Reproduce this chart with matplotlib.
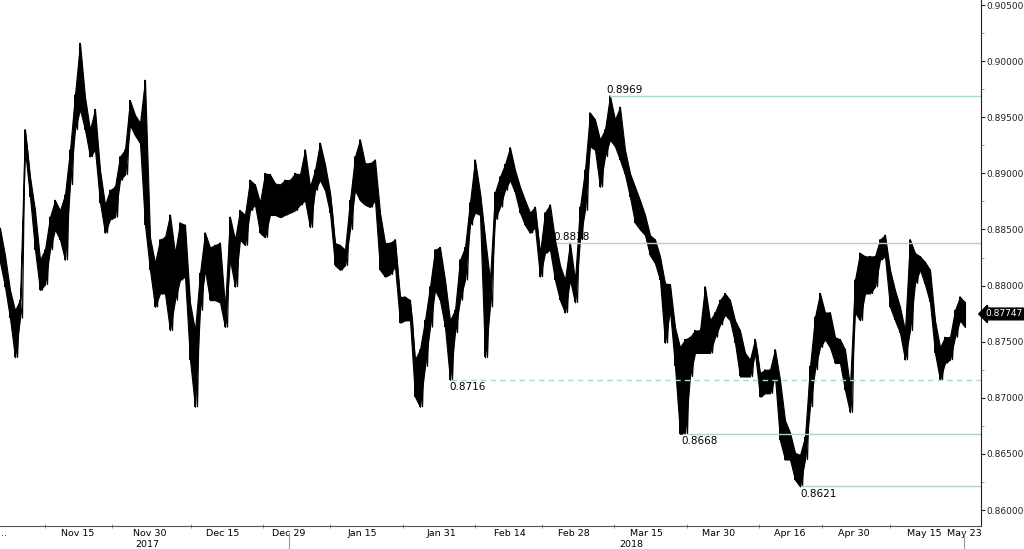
import matplotlib
matplotlib.use("Agg")
import matplotlib.pyplot as plt
import numpy as np

# price bands (high / low) sampled at regular bar intervals, Nov 2017 - May 2018
highs = [
    0.8851, 0.8827, 0.8796, 0.8778, 0.8787, 0.8939, 0.8897, 0.8867, 0.8823, 0.8832,
    0.8861, 0.8876, 0.8867, 0.8881, 0.8921, 0.8970, 0.9016, 0.8968, 0.8939, 0.8957,
    0.8903, 0.8872, 0.8885, 0.8888, 0.8915, 0.8921, 0.8965, 0.8952, 0.8945, 0.8983,
    0.8843, 0.8820, 0.8841, 0.8843, 0.8863, 0.8829, 0.8856, 0.8854, 0.8785, 0.8760,
    0.8811, 0.8847, 0.8834, 0.8836, 0.8838, 0.8781, 0.8861, 0.8841, 0.8867, 0.8863,
    0.8894, 0.8890, 0.8874, 0.8900, 0.8899, 0.8891, 0.8890, 0.8894, 0.8894, 0.8900,
    0.8899, 0.8921, 0.8888, 0.8903, 0.8927, 0.8908, 0.8883, 0.8838, 0.8836, 0.8832,
    0.8876, 0.8915, 0.8930, 0.8909, 0.8909, 0.8912, 0.8865, 0.8838, 0.8838, 0.8841,
    0.8790, 0.8790, 0.8787, 0.8734, 0.8743, 0.8769, 0.8799, 0.8832, 0.8834, 0.8805,
    0.8769, 0.8778, 0.8823, 0.8834, 0.8874, 0.8912, 0.8883, 0.8843, 0.8805, 0.8883,
    0.8897, 0.8908, 0.8923, 0.8903, 0.8888, 0.8876, 0.8865, 0.8870, 0.8829, 0.8865,
    0.8872, 0.8841, 0.8818, 0.8805, 0.8838, 0.8805, 0.8870, 0.8903, 0.8954, 0.8948,
    0.8930, 0.8939, 0.8969, 0.8948, 0.8959, 0.8921, 0.8900, 0.8888, 0.8876, 0.8863,
    0.8845, 0.8841, 0.8826, 0.8802, 0.8801, 0.8763, 0.8745, 0.8752, 0.8754, 0.8760,
    0.8760, 0.8799, 0.8769, 0.8776, 0.8787, 0.8793, 0.8787, 0.8769, 0.8760, 0.8740,
    0.8734, 0.8752, 0.8722, 0.8725, 0.8725, 0.8743, 0.8716, 0.8680, 0.8669, 0.8651,
    0.8649, 0.8665, 0.8728, 0.8772, 0.8793, 0.8776, 0.8776, 0.8754, 0.8752, 0.8743,
    0.8710, 0.8805, 0.8829, 0.8826, 0.8826, 0.8826, 0.8841, 0.8845, 0.8814, 0.8796,
    0.8781, 0.8760, 0.8841, 0.8829, 0.8826, 0.8821, 0.8814, 0.8769, 0.8745, 0.8754,
    0.8754, 0.8778, 0.8790, 0.8785,
]
lows = [
    0.8821, 0.8799, 0.8771, 0.8736, 0.8771, 0.8921, 0.8879, 0.8832, 0.8796, 0.8801,
    0.8832, 0.8850, 0.8841, 0.8823, 0.8890, 0.8939, 0.8957, 0.8939, 0.8915, 0.8921,
    0.8874, 0.8847, 0.8859, 0.8861, 0.8894, 0.8899, 0.8943, 0.8934, 0.8927, 0.8854,
    0.8814, 0.8781, 0.8793, 0.8793, 0.8760, 0.8787, 0.8805, 0.8808, 0.8734, 0.8692,
    0.8778, 0.8814, 0.8787, 0.8787, 0.8785, 0.8763, 0.8823, 0.8799, 0.8841, 0.8836,
    0.8867, 0.8872, 0.8847, 0.8843, 0.8863, 0.8863, 0.8861, 0.8863, 0.8865, 0.8867,
    0.8872, 0.8876, 0.8852, 0.8885, 0.8894, 0.8885, 0.8865, 0.8818, 0.8814, 0.8818,
    0.8850, 0.8885, 0.8876, 0.8872, 0.8870, 0.8876, 0.8814, 0.8808, 0.8810, 0.8817,
    0.8767, 0.8769, 0.8769, 0.8701, 0.8692, 0.8728, 0.8763, 0.8796, 0.8787, 0.8763,
    0.8716, 0.8758, 0.8787, 0.8805, 0.8854, 0.8865, 0.8863, 0.8736, 0.8781, 0.8859,
    0.8870, 0.8885, 0.8894, 0.8883, 0.8865, 0.8854, 0.8847, 0.8852, 0.8808, 0.8829,
    0.8832, 0.8805, 0.8787, 0.8776, 0.8805, 0.8785, 0.8841, 0.8867, 0.8924, 0.8921,
    0.8888, 0.8915, 0.8930, 0.8924, 0.8912, 0.8899, 0.8879, 0.8856, 0.8850, 0.8845,
    0.8827, 0.8820, 0.8805, 0.8749, 0.8778, 0.8728, 0.8668, 0.8668, 0.8719, 0.8740,
    0.8740, 0.8740, 0.8740, 0.8754, 0.8765, 0.8774, 0.8769, 0.8749, 0.8719, 0.8719,
    0.8719, 0.8740, 0.8701, 0.8704, 0.8704, 0.8719, 0.8662, 0.8645, 0.8645, 0.8627,
    0.8621, 0.8645, 0.8692, 0.8725, 0.8745, 0.8752, 0.8745, 0.8731, 0.8731, 0.8707,
    0.8687, 0.8776, 0.8769, 0.8793, 0.8793, 0.8799, 0.8823, 0.8826, 0.8781, 0.8769,
    0.8758, 0.8734, 0.8760, 0.8802, 0.8814, 0.8801, 0.8785, 0.8740, 0.8716, 0.8731,
    0.8734, 0.8754, 0.8769, 0.8763,
]
last_price = 0.87747

# date labels and their bar positions
date_labels = ["...", "Nov 15", "Nov 30", "Dec 15", "Dec 29", "Jan 15", "Jan 31", "Feb 14",
               "Feb 28", "Mar 15", "Mar 30", "Apr 16", "Apr 30", "May 15", "May 23"]
date_pos = [0.6, 15.5, 30.0, 44.6, 57.8, 72.4, 88.2, 102.0, 114.8, 129.4, 143.8, 158.0, 170.8, 184.8, 192.8]
minor_pos = [9.0, 22.4, 38.2, 52.6, 66.0, 80.6, 95.0, 108.4, 122.8, 137.4, 151.8, 164.4, 178.0]
year_labels = [("2017", 27.0), ("2018", 123.8)]

# annotated levels: (value, start bar, label above?, dashed?)
levels = [
    (0.8969, 122.0, True, False),
    (0.8838, 111.4, True, False),
    (0.8716, 90.2, False, True),
    (0.8668, 136.6, False, False),
    (0.8621, 160.4, False, False),
]

lvl_color = "#a9d8c6"

fig = plt.figure(figsize=(10.24, 5.49), dpi=100)
ax = fig.add_axes([0.0, 0.042, 0.958, 0.958])

idx = np.arange(len(highs))
hi = np.array(highs)
lo = np.array(lows)

# body of the bars plus a high/low zigzag so the trace looks like dense bars
ax.fill_between(idx, lo, hi, color="black", linewidth=0.8, edgecolor="black")
zx = np.empty(2 * len(idx))
zy = np.empty(2 * len(idx))
zx[0::2] = idx
zx[1::2] = idx + 0.5
zy[0::2] = hi
zy[1::2] = lo
zy[1:-1:2] = lo[:-1]
ax.plot(zx[:-1], zy[:-1], color="black", lw=0.9)
ax.vlines(idx, lo, hi, color="black", lw=1.4)

xmax = 196.2
for val, start, above, dashed in levels:
    if dashed:
        ax.plot([start, xmax], [val, val], color=lvl_color, lw=1.0, ls=(0, (4, 3)))
    else:
        ax.plot([start, xmax], [val, val], color=lvl_color, lw=1.0)
    if above:
        ax.text(start - 0.7, val + 0.0001, f"{val:.4f}", fontsize=7.5, ha="left", va="bottom")
    else:
        ax.text(start - 0.3, val - 0.0002, f"{val:.4f}", fontsize=7.5, ha="left", va="top")

ax.set_xlim(0, xmax)
ax.set_ylim(0.85858, 0.90545)

for s in ["top", "left"]:
    ax.spines[s].set_visible(False)
ax.spines["right"].set_color("#222222")
ax.spines["bottom"].set_color("#555555")

ax.yaxis.tick_right()
yt = np.arange(0.860, 0.9051, 0.005)
ax.set_yticks(yt)
ax.set_yticklabels([f"{v:.5f}" for v in yt], fontsize=6.5)
ax.set_yticks(np.arange(0.8625, 0.905, 0.005), minor=True)
ax.tick_params(axis="y", which="major", length=3, pad=1, colors="#222222")
ax.tick_params(axis="y", which="minor", length=2, colors="#888888")

ax.set_xticks(date_pos)
ax.set_xticklabels(date_labels, fontsize=6.8)
ax.set_xticks(minor_pos, minor=True)
ax.tick_params(axis="x", which="major", length=0, pad=2)
ax.tick_params(axis="x", which="minor", length=3, direction="inout", colors="#777777")

for txt, pos in year_labels:
    ax.text(pos, -0.027, txt, transform=ax.get_xaxis_transform(), fontsize=6.8,
            ha="left", va="top")

# year boundary / last date separators below the axis
for pos in [57.8, 192.8]:
    ax.plot([pos, pos], [-0.013, -0.05], transform=ax.get_xaxis_transform(),
            color="#999999", lw=0.8, clip_on=False)

ax.text(1.004, last_price, f"{last_price:.5f}", transform=ax.get_yaxis_transform(),
        fontsize=6.5, color="white", ha="left", va="center",
        bbox=dict(boxstyle="larrow,pad=0.15", fc="black", ec="black"))

fig.savefig("out.png", dpi=100)
